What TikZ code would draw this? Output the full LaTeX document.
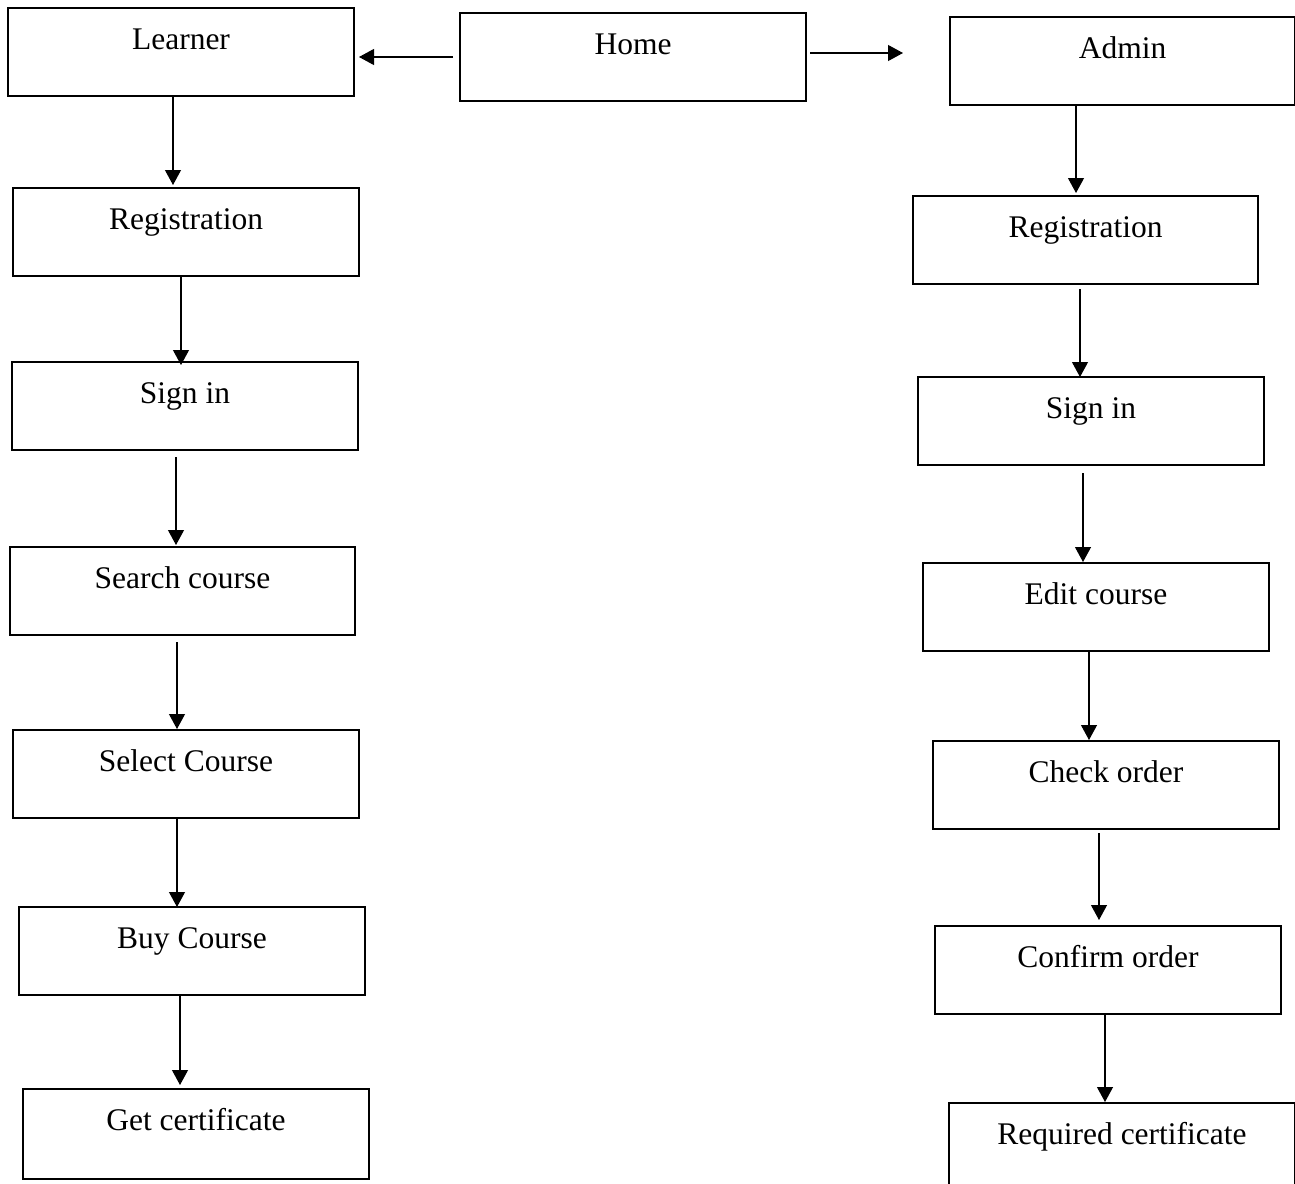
\documentclass[tikz,border=0pt]{standalone}
\usepackage{fontspec}
\setmainfont{Liberation Serif}
\usetikzlibrary{arrows.meta}
\tikzset{
  box/.style={draw, line width=1.6pt, rectangle, anchor=north west, inner sep=0pt, outer sep=0pt,
    minimum width=346pt, text height=41pt, text depth=47pt, align=center,
    font=\fontsize{31.5}{36}\selectfont},
  arr/.style={line width=1.1pt, -{Triangle[length=15pt,width=16pt]}}
}
\begin{document}
\begin{tikzpicture}[x=1pt,y=-1pt]
\useasboundingbox (0,0) rectangle (1295,1183);
\clip (0,0) rectangle (1295,1183);
% top row
\node[box] (learner) at (8,8) {Learner};
\node[box] (home) at (460,13) {Home};
\node[box, minimum width=345pt] (admin) at (950,17) {Admin};
% learner column
\node[box] (lreg) at (13,188) {Registration};
\node[box] (lsign) at (12,362) {Sign in};
\node[box, minimum width=345pt] (lsearch) at (10,547) {Search course};
\node[box] (lselect) at (13,730) {Select Course};
\node[box] (lbuy) at (19,907) {Buy Course};
\node[box, text depth=49pt] (lget) at (23,1089) {Get certificate};
% admin column
\node[box, minimum width=345pt] (rreg) at (913,196) {Registration};
\node[box] (rsign) at (918,377) {Sign in};
\node[box] (redit) at (923,563) {Edit course};
\node[box] (rcheck) at (933,741) {Check order};
\node[box] (rconfirm) at (935,926) {Confirm order};
\node[box] (rreq) at (949,1103) {Required certificate};
% horizontal connectors
\draw[arr] ([xshift=-7pt]home.west) -- ([xshift=5pt]learner.east |- home.west);
\coordinate (adminin) at ([xshift=-47pt,yshift=4pt]admin.west |- home.east);
\draw[arr] ([xshift=4pt,yshift=4pt]home.east) -- (adminin);
% learner column connectors
\draw[arr] (learner.south -| 173,0) -- ([yshift=3pt]lreg.north -| 173,0);
\draw[arr] (lreg.south -| 181,0) -- ([yshift=-3pt]lsign.north -| 181,0);
\draw[arr] ([yshift=-7pt]lsign.south -| 176,0) -- ([yshift=2pt]lsearch.north -| 176,0);
\draw[arr] ([yshift=-7pt]lsearch.south -| 177,0) -- ([yshift=1pt]lselect.north -| 177,0);
\draw[arr] (lselect.south -| 177,0) -- (lbuy.north -| 177,0);
\draw[arr] (lbuy.south -| 180,0) -- ([yshift=4pt]lget.north -| 180,0);
% admin column connectors
\draw[arr] (admin.south -| 1076,0) -- ([yshift=3pt]rreg.north -| 1076,0);
\draw[arr] ([yshift=-5pt]rreg.south -| 1080,0) -- (rsign.north -| 1080,0);
\draw[arr] ([yshift=-8pt]rsign.south -| 1083,0) -- ([yshift=1pt]redit.north -| 1083,0);
\draw[arr] (redit.south -| 1089,0) -- ([yshift=1pt]rcheck.north -| 1089,0);
\draw[arr] ([yshift=-4pt]rcheck.south -| 1099,0) -- ([yshift=6pt]rconfirm.north -| 1099,0);
\draw[arr] (rconfirm.south -| 1105,0) -- ([yshift=1pt]rreq.north -| 1105,0);
\end{tikzpicture}
\end{document}
